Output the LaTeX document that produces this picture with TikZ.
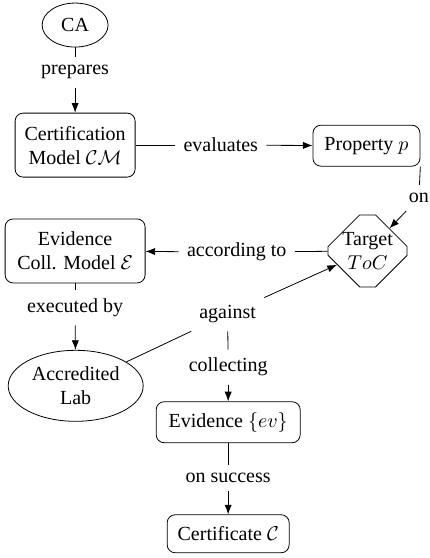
\documentclass[tikz,border=0pt]{standalone}
\usepackage{fontspec}
\setmainfont{Liberation Serif}
\usetikzlibrary{arrows.meta, shapes.geometric, shapes.misc}

\begin{document}
\begin{tikzpicture}[
    box/.style={draw, rounded corners=4pt, align=center, inner sep=2pt},
    oval/.style={draw, ellipse, align=center, inner sep=1pt},
    octa/.style={draw, chamfered rectangle, chamfered rectangle xsep=5.75pt,
        chamfered rectangle ysep=10.5pt, align=center,
        inner xsep=0pt, inner ysep=-4pt,
        minimum width=39.5pt, minimum height=36pt},
    lbl/.style={inner sep=4pt},
    >={Latex}
]

% Frame
\useasboundingbox (0,0) rectangle (7.556,-9.806);

% Left column
\node[oval, minimum width=33pt, minimum height=22pt] (ca) at (1.32,-0.44) {CA};
\node[lbl] (prep) at (1.32,-1.27) {prepares};
\node[box, minimum width=60pt, minimum height=32pt] (cm) at (1.32,-2.55) {Certification\\Model $\mathcal{CM}$};
\node[box, minimum width=70pt, minimum height=32pt] (ecm) at (1.32,-4.41) {Evidence\\Coll. Model $\mathcal{E}$};
\node[lbl] (exec) at (1.32,-5.41) {executed by};
\node[oval, minimum width=67.5pt, minimum height=35.5pt] (lab) at (1.33,-6.78) {Accredited\\Lab};

% Right column
\node[lbl] (eval) at (3.88,-2.55) {evaluates};
\node[box, minimum width=53.5pt, minimum height=20.5pt] (prop) at (6.44,-2.56) {Property $p$};
\node[lbl] (on) at (7.36,-3.48) {on};
\node[octa] (toc) at (6.46,-4.41) {Target\\$ToC$};
\node[lbl] (acc) at (4.16,-4.43) {according to};

% Middle column
\node[lbl] (agst) at (4.00,-5.52) {against};
\node[lbl] (coll) at (4.01,-6.45) {collecting};
\node[box, minimum width=72pt, minimum height=20.5pt] (ev) at (4.01,-7.42) {Evidence $\{ev\}$};
\node[lbl] (succ) at (4.01,-8.40) {on success};
\node[box, minimum width=61pt, minimum height=19pt] (cert) at (4.01,-9.38) {Certificate $\mathcal{C}$};

% ---------------------------------------------------------
% Relations
% ---------------------------------------------------------
\draw (ca) -- (prep);
\draw[->] (prep) -- (cm);
\draw (cm) -- (eval);
\draw[->] (eval) -- (prop);
\draw (prop.south east) -- (on);
\draw[->] (on) -- (toc);
\draw (toc) -- (acc);
\draw[->] (acc) -- (ecm);
\draw (ecm) -- (exec);
\draw[->] (exec) -- (lab);
\draw (lab) -- (agst);
\draw[->] (agst) -- (toc);
\draw (agst) -- (coll);
\draw[->] (coll) -- (ev);
\draw (ev) -- (succ);
\draw[->] (succ) -- (cert);

\end{tikzpicture}
\end{document}
